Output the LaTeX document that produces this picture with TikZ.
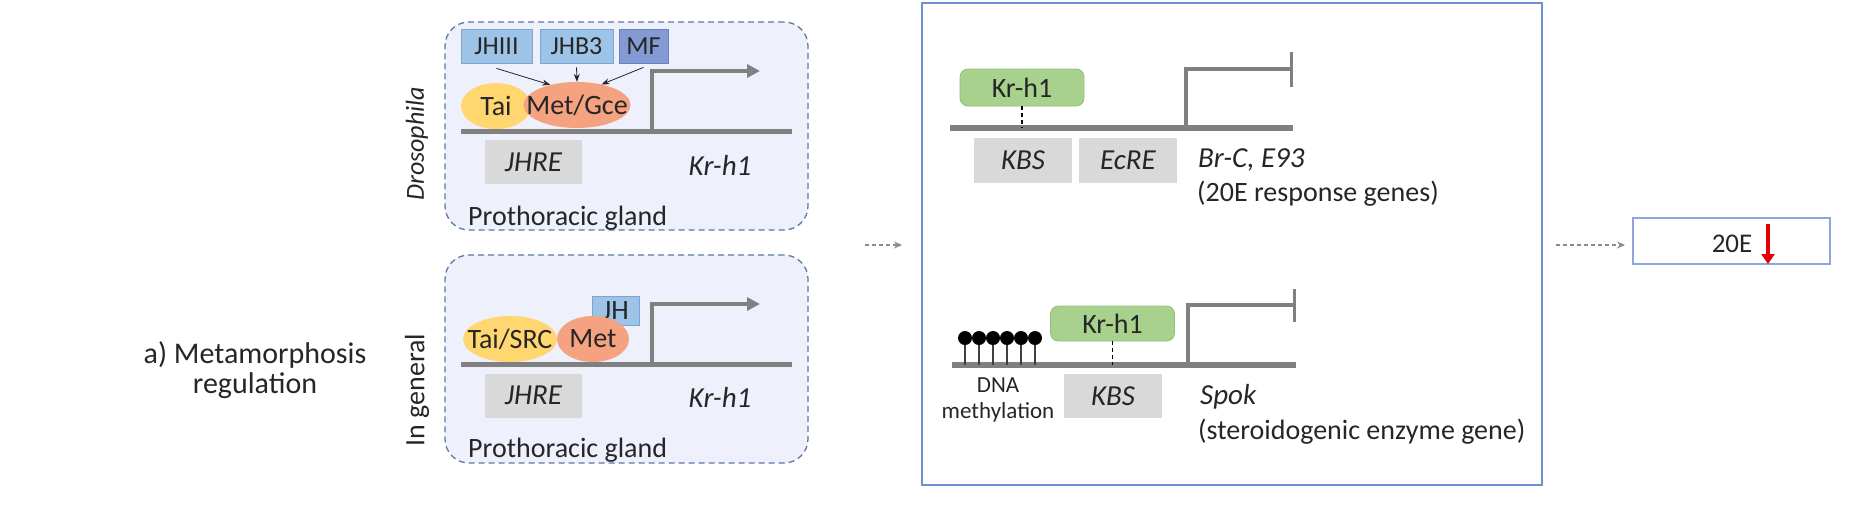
\documentclass[tikz,border=0pt]{standalone}
\usepackage{fontspec}
\setmainfont{Carlito}
\usetikzlibrary{arrows.meta,shapes.geometric}
\definecolor{pgfillc}{RGB}{238,240,252}
\definecolor{pgdrawc}{RGB}{95,120,165}
\definecolor{ligblue}{RGB}{157,195,230}
\definecolor{ligborder}{RGB}{125,165,212}
\definecolor{mfblue}{RGB}{132,154,212}
\definecolor{mfborder}{RGB}{105,128,195}
\definecolor{taiyellow}{RGB}{255,214,112}
\definecolor{metsalmon}{RGB}{244,162,128}
\definecolor{sitegray}{RGB}{217,217,217}
\definecolor{dnagray}{RGB}{128,128,128}
\definecolor{krgreen}{RGB}{169,209,142}
\definecolor{krborder}{RGB}{142,192,112}
\definecolor{midblue}{RGB}{112,142,212}
\definecolor{boxblue}{RGB}{140,165,222}
\definecolor{arrred}{RGB}{226,0,0}
\definecolor{txt}{RGB}{38,38,38}
\definecolor{dashgray}{RGB}{140,140,140}
\newcommand{\fs}[1]{\fontsize{#1}{#1}\selectfont}
\tikzset{
  base/.style={font=\fs{28}, text=txt},
  pgbox/.style={draw=pgdrawc, fill=pgfillc, dash pattern=on 6pt off 4pt, line width=1.3pt, rounded corners=24pt, inner sep=0},
  ligand/.style={draw=ligborder, fill=ligblue, minimum height=34pt, inner sep=0, line width=0.8pt, font=\fs{26}},
  mfligand/.style={ligand, draw=mfborder, fill=mfblue},
  tf/.style={ellipse, inner sep=0},
  tflabel/.style={inner sep=0, text=txt, font=\fs{28}},
  dnaline/.style={draw=dnagray, line width=5pt},
  middna/.style={draw=dnagray, line width=6pt},
  promoter/.style={draw=dnagray, line width=3.5pt},
  site/.style={fill=sitegray, minimum height=44pt, minimum width=98pt, inner sep=0, font=\fs{29}\itshape},
  gene/.style={font=\fs{29}\itshape, inner sep=0},
  krbox/.style={draw=krborder, fill=krgreen, rounded corners=8pt, minimum width=124pt, inner sep=0, line width=0.8pt, font=\fs{28}},
  bindarrow/.style={draw=txt, line width=0.8pt, -{Stealth[length=8pt,width=6pt]}},
  bindline/.style={draw=black, line width=1.2pt, dash pattern=on 4pt off 3pt},
  flow/.style={draw=dashgray, line width=1.3pt, dash pattern=on 4pt off 3pt, -{Stealth[length=8pt,width=7pt]}},
  plain/.style={inner sep=0},
}
\begin{document}
\begin{tikzpicture}[x=1pt,y=-1pt,base]
\useasboundingbox (0,0) rectangle (1851,528);
\fill[white] (0,0) rectangle (1851,528);

% left label
\node[plain, align=center, font=\fontsize{30}{30}\selectfont] (title) at (255,370) {a) Metamorphosis\\regulation};

% side labels
\node[plain, rotate=90, font=\fs{26}\itshape] (dros) at (417,144) {Drosophila};
\node[plain, rotate=90] (ingen) at (417,390) {In general};

% ---------- top panel ----------
\node[pgbox, minimum width=363pt, minimum height=208pt] (pg1) at (626.5,126) {};
\node[ligand, minimum width=71pt] (jhiii) at (496.5,46) {JHIII};
\node[ligand, minimum width=73pt] (jhb3) at (576.5,46) {JHB3};
\node[mfligand, minimum width=49pt] (mf) at (643.5,46) {MF};
\draw[dnaline] (461,131) -- (792,131);
\node[tf, fill=taiyellow, minimum width=70pt, minimum height=46pt, label={[tflabel]center:Tai}] (tai) at (496,106) {};
\node[tf, fill=metsalmon, minimum width=107pt, minimum height=46pt, label={[tflabel]center:Met/Gce}] (metgce) at (577,105) {};
\draw[bindarrow] ([yshift=-5pt]jhiii.south) -- (metgce.143);
\draw[bindarrow] ([yshift=-4pt]jhb3.south) -- (metgce.90);
\draw[bindarrow] ([yshift=-4pt]mf.south) -- (metgce.40);
\coordinate (p1a) at (652,131);
\coordinate (p1b) at (760,71);
\draw[promoter, -{Triangle[length=13pt,width=13pt]}] (p1a) |- (p1b);
\node[site, minimum width=97pt] (jhre1) at (533.5,162) {JHRE};
\node[gene] (kr1) at (720,165) {Kr-h1};
\node[plain, anchor=west] (pgl1) at (468,218) {Prothoracic gland};

% ---------- bottom panel ----------
\node[pgbox, minimum width=363pt, minimum height=208pt] (pg2) at (626.5,359) {};
\draw[dnaline] (461,364) -- (792,364);
\node[ligand, minimum width=47pt, minimum height=29pt, font=\fs{28}] (jh) at (615.5,310.5) {JH};
\node[tf, fill=taiyellow, minimum width=94pt, minimum height=46pt, label={[tflabel]center:Tai/SRC}] (taisrc) at (510,339) {};
\node[tf, fill=metsalmon, minimum width=72pt, minimum height=46pt, label={[tflabel]center:Met}] (met) at (593,339) {};
\coordinate (p2a) at (652,364);
\coordinate (p2b) at (760,304);
\draw[promoter, -{Triangle[length=13pt,width=13pt]}] (p2a) |- (p2b);
\node[site, minimum width=97pt] (jhre2) at (533.5,395.5) {JHRE};
\node[gene] (kr2) at (720,397) {Kr-h1};
\node[plain, anchor=west] (pgl2) at (468,450) {Prothoracic gland};

% arrow to middle
\coordinate (f1a) at (865,245);
\coordinate (f1b) at (902,245);
\draw[flow] (f1a) -- (f1b);

% ---------- middle panel ----------
\node[draw=midblue, line width=1.3pt, minimum width=620pt, minimum height=482pt, inner sep=0] (mid) at (1232,244) {};

% top gene
\draw[middna] (950,128) -- (1293,128);
\node[krbox, minimum height=37pt] (krp1) at (1022,87.5) {Kr-h1};
\coordinate (kbsdna1) at (1022,128);
\draw[bindline] (krp1.south) -- (kbsdna1);
\coordinate (p3a) at (1186,128);
\coordinate (p3b) at (1293,69);
\draw[promoter, -{Bar[width=35pt]}] (p3a) |- (p3b);
\node[site, minimum height=45pt] (kbs1) at (1023,160.5) {KBS};
\node[site, minimum height=45pt] (ecre) at (1128,160.5) {EcRE};
\node[gene, anchor=west] (brc) at (1198,160) {Br-C, E93};
\node[plain, anchor=west] (resp) at (1197,194) {(20E response genes)};

% bottom gene
\draw[middna] (952,365) -- (1296,365);
\foreach \x in {965,979,993,1007,1021,1035}{
  \draw[draw=black!75, line width=1.8pt] (\x,365) -- (\x,338);
  \fill[black] (\x,338) circle (7pt);
}
\node[krbox, minimum height=35pt] (krp2) at (1112.5,323.5) {Kr-h1};
\coordinate (kbsdna2) at (1112.5,365);
\draw[bindline] (krp2.south) -- (kbsdna2);
\coordinate (p4a) at (1188,365);
\coordinate (p4b) at (1296,305);
\draw[promoter, -{Bar[width=33pt]}] (p4a) |- (p4b);
\node[site] (kbs2) at (1113,396) {KBS};
\node[plain, align=center, font=\fontsize{23}{26}\selectfont] (meth) at (998,400) {DNA\\methylation};
\node[gene, anchor=west] (spok) at (1200,397) {Spok};
\node[plain, anchor=west] (steroid) at (1198,432) {(steroidogenic enzyme gene)};

% arrow to result
\coordinate (f2a) at (1556,245);
\coordinate (f2b) at (1625,245);
\draw[flow] (f2a) -- (f2b);

% result box
\node[draw=boxblue, line width=1.3pt, minimum width=197pt, minimum height=46pt, inner sep=0] (res) at (1731.5,241) {};
\node[plain, font=\fs{27}] (e20) at (1732,244) {20E};
\coordinate (da) at (1768,224);
\coordinate (db) at (1768,264);
\draw[draw=arrred, line width=4.5pt, -{Triangle[length=10pt,width=13pt]}] (da) -- (db);
\end{tikzpicture}
\end{document}
